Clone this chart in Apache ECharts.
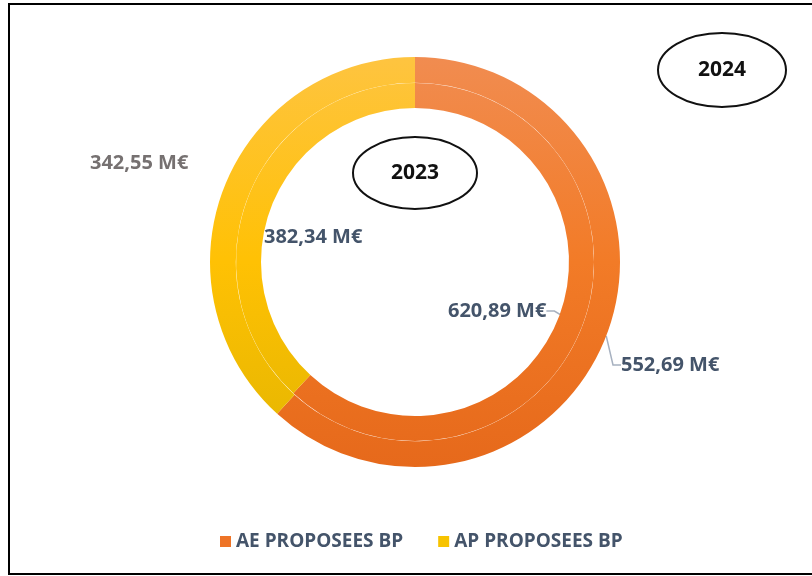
<!DOCTYPE html>
<html>
<head>
<meta charset="utf-8">
<script src="https://cdn.jsdelivr.net/npm/echarts@6/dist/echarts.min.js"></script>
<style>
    html, body { margin: 0; padding: 0; background: #fff; }
    #main { position: absolute; left: 0; top: 0; width: 812px; height: 576px; }
    .frame {
        position: absolute; left: 8px; top: 3px; width: 810px; height: 568px;
        border-left: 2px solid #000; border-top: 2px solid #000; border-bottom: 2px solid #000;
        pointer-events: none;
    }
</style>
</head>
<body>
<div id="main"></div>
<div class="frame"></div>
<script>
// données
const categories = ['AE PROPOSEES BP', 'AP PROPOSEES BP']
const values2023 = [620.89, 382.34] // anneau intérieur
const values2024 = [552.69, 342.55] // anneau extérieur
const years = ['2023', '2024']

// couleurs (dégradé vertical sur tout l'anneau)
const grad = (top, mid, bottom) => ({
    type: 'linear', x: 0, y: 57, x2: 0, y2: 467, global: true,
    colorStops: [{ offset: 0, color: top }, { offset: 0.5, color: mid }, { offset: 1, color: bottom }]
})
const orange = grad('#F18C50', '#F27B27', '#E6691B')
const yellow = grad('#FEC440', '#FFC104', '#E3B500')

const fmt = v => v.toFixed(2).replace('.', ',') + ' M€'

// positions des étiquettes [série][donnée]
const labelPos = [
    [{ x: 448, y: 311 }, { x: 264, y: 237 }],
    [{ x: 621, y: 365 }, { x: 90, y: 163 }]
]

const chart = echarts.init(document.getElementById('main'))

const makeSeries = (name, values, radius, idx) => ({
    name: name,
    type: 'pie',
    center: [415, 262],
    radius: radius,
    startAngle: 90,
    clockwise: true,
    silent: true,
    animation: false,
    label: {
        show: true,
        formatter: p => fmt(p.value),
        fontFamily: 'Open Sans',
        fontWeight: 'bold',
        fontSize: 20,
        color: '#44546A'
    },
    labelLine: {
        show: true,
        length: 8,
        length2: 8,
        lineStyle: { color: '#A7B1C0', width: 1.5 }
    },
    labelLayout: p => ({
        x: labelPos[idx][p.dataIndex].x,
        y: labelPos[idx][p.dataIndex].y,
        align: 'left',
        verticalAlign: 'middle'
    }),
    data: values.map((v, i) => ({
        name: categories[i],
        value: v,
        itemStyle: { color: i === 0 ? orange : yellow },
        labelLine: { show: i === 0 },
        label: idx === 1 && i === 1 ? { color: '#767171' } : {}
    }))
})

chart.setOption({
    backgroundColor: '#fff',
    legend: {
        bottom: 20,
        left: 215,
        itemWidth: 11,
        itemHeight: 11,
        itemGap: 35,
        icon: 'rect',
        data: categories.map((c, i) => ({ name: c, itemStyle: { color: i === 0 ? '#EE7427' : '#F7C300' } })),
        textStyle: { fontFamily: 'Open Sans', fontWeight: 'bold', fontSize: 19, color: '#44546A' }
    },
    graphic: [
        { type: 'ellipse', shape: { cx: 415, cy: 173, rx: 62, ry: 36 }, style: { fill: '#fff', stroke: '#111', lineWidth: 2 } },
        { type: 'text', x: 415, y: 173, style: { text: years[0], align: 'center', verticalAlign: 'middle', font: 'bold 21px "Open Sans"', fill: '#111' } },
        { type: 'ellipse', shape: { cx: 722, cy: 70, rx: 64, ry: 37 }, style: { fill: '#fff', stroke: '#111', lineWidth: 2 } },
        { type: 'text', x: 722, y: 70, style: { text: years[1], align: 'center', verticalAlign: 'middle', font: 'bold 21px "Open Sans"', fill: '#111' } }
    ],
    series: [
        makeSeries(years[0], values2023, [154, 179], 0),
        makeSeries(years[1], values2024, [179.2, 205], 1)
    ]
})
</script>
</body>
</html>
